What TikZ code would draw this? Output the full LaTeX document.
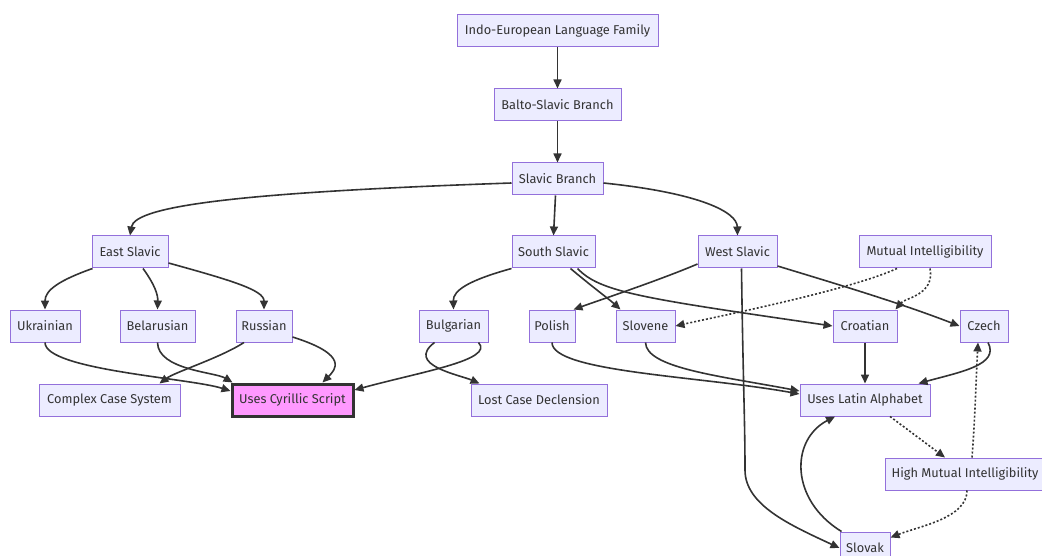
\documentclass[tikz,border=0pt]{standalone}
\usepackage{fontspec}
\setmainfont{Fira Sans}
\usetikzlibrary{arrows.meta,calc}
\definecolor{nfill}{HTML}{ECECFF}
\definecolor{nborder}{HTML}{9370DB}
\definecolor{ecol}{HTML}{333333}
\definecolor{pinkfill}{HTML}{FF99FF}
\tikzset{
  box/.style={draw=nborder, fill=nfill, line width=1pt, minimum height=32pt, inner sep=0pt, font=\fontsize{12.8}{15}\selectfont, text=ecol},
  hilite/.style={draw=ecol, fill=pinkfill, line width=3pt, minimum height=32pt, inner sep=0pt, font=\fontsize{12.8}{15}\selectfont, text=ecol},
  edge/.style={draw=ecol, line width=1.6pt, -{Triangle[length=9pt,width=8pt]}},
  dotedge/.style={draw=ecol, line width=1.6pt, dash pattern=on 2pt off 2pt, -{Triangle[length=9pt,width=8pt]}}
}
\begin{document}
\begin{tikzpicture}[x=1pt,y=-1pt]
\useasboundingbox (0,0) rectangle (1042,556);
\node[box, minimum width=201pt] (ie) at (557.5,31) {Indo-European Language Family};
\node[box, minimum width=127pt] (balto) at (557.5,105) {Balto-Slavic Branch};
\node[box, minimum width=91pt] (slav) at (557.5,179) {Slavic Branch};
\node[box, minimum width=76pt] (east) at (130,252) {East Slavic};
\node[box, minimum width=83pt] (south) at (553.5,252) {South Slavic};
\node[box, minimum width=79pt] (west) at (737.5,252) {West Slavic};
\node[box, minimum width=132pt] (mutual) at (925,252) {Mutual Intelligibility};
\node[box, minimum width=70pt] (ukr) at (45,326) {Ukrainian};
\node[box, minimum width=75pt] (bel) at (157.5,326) {Belarusian};
\node[box, minimum width=56pt] (rus) at (264,326) {Russian};
\node[box, minimum width=69pt] (bul) at (453.5,326) {Bulgarian};
\node[box, minimum width=46pt] (pol) at (552,326) {Polish};
\node[box, minimum width=59pt] (slo) at (645.5,326) {Slovene};
\node[box, minimum width=64pt] (cro) at (865,326) {Croatian};
\node[box, minimum width=48pt] (cze) at (984,326) {Czech};
\node[box, minimum width=141pt] (ccs) at (109.5,400) {Complex Case System};
\node[hilite, minimum width=121pt] (cyr) at (292.5,400) {Uses Cyrillic Script};
\node[box, minimum width=136pt] (lcd) at (539,400) {Lost Case Declension};
\node[box, minimum width=130pt] (lat) at (865,400) {Uses Latin Alphabet};
\node[box, minimum width=160pt] (hmi) at (965,474) {High Mutual Intelligibility};
\node[box, minimum width=50pt] (slk) at (865,548) {Slovak};

\draw[edge] (ie) -- (balto);
\draw[edge] (balto) -- (slav);
\draw[edge] ($(slav.west)+(0,4)$) .. controls (250,192) and (135,205) .. (east.north);
\draw[edge] ($(slav.south)+(-2,0)$) -- ($(south.north)+(0,0)$);
\draw[edge] ($(slav.east)+(0,4)$) .. controls (700,193) and (737,212) .. (west.north);

\draw[edge] ($(east.south west)+(1,0)$) .. controls (60,280) and (45,290) .. (ukr.north);
\draw[edge] ($(east.south)+(13,0)$) .. controls (155,285) and (158,295) .. (bel.north);
\draw[edge] ($(east.east)+(0,11)$) .. controls (230,280) and (264,290) .. (rus.north);
\draw[edge] (south.south west) .. controls (470,280) and (453,290) .. (bul.north);
\draw[edge] ($(south.south)+(17,0)$) .. controls (590,285) and (610,300) .. ($(slo.north west)+(5,0)$);
\draw[edge] ($(south.south)+(24,0)$) .. controls (600,292) and (640,298) .. (cro.west);
\draw[edge] ($(west.west)+(0,12)$) .. controls (660,280) and (600,300) .. ($(pol.north east)+(-2,0)$);
\draw[edge] ($(west.east)+(0,14)$) .. controls (840,285) and (900,303) .. (cze.west);
\draw[edge] ($(west.south)+(4,0)$) .. controls (743,380) and (745,420) .. (745,470) .. controls (745,505) and (790,525) .. (slk.west);
\draw[dotedge] ($(mutual.south)+(-28,0)$) .. controls (850,290) and (720,316) .. (slo.east);
\draw[dotedge] ($(mutual.south)+(5,0)$) .. controls (935,295) and (905,298) .. ($(cro.north east)+(-2,0)$);

\draw[edge] (ukr.south) .. controls (45,370) and (190,378) .. ($(cyr.west)+(0,-9)$);
\draw[edge] (bel.south) .. controls (158,370) and (215,372) .. ($(cyr.north west)+(2,0)$);
\draw[edge] ($(rus.south)+(-20,0)$) .. controls (220,358) and (175,372) .. ($(ccs.north)+(50,0)$);
\draw[edge] ($(rus.east)+(0,11)$) .. controls (350,355) and (335,370) .. ($(cyr.north)+(30,0)$);
\draw[edge] ($(bul.south)+(25,0)$) .. controls (495,360) and (420,372) .. ($(cyr.east)+(0,-10)$);
\draw[edge] ($(bul.south)+(-19,0)$) .. controls (405,365) and (460,375) .. ($(lcd.north west)+(9,0)$);
\draw[edge] (pol.south) .. controls (552,372) and (700,376) .. ($(lat.west)+(0,-6)$);
\draw[edge] (slo.south) .. controls (646,368) and (720,376) .. ($(lat.west)+(0,-9)$);
\draw[edge] (cro) -- (lat);
\draw[edge] ($(cze.south)+(4,0)$) .. controls (1000,365) and (960,372) .. ($(lat.north east)+(-12,0)$);
\draw[dotedge] ($(lat.south)+(25,0)$) -- ($(hmi.north)+(-20,0)$);
\draw[dotedge] ($(hmi.north)+(7,0)$) .. controls (975,420) and (976,380) .. ($(cze.south)+(-6,0)$);
\draw[dotedge] ($(hmi.south)+(2,0)$) .. controls (967,518) and (920,526) .. ($(slk.north east)+(0,6)$);
\draw[edge] ($(slk.north west)+(2,0)$) .. controls (790,500) and (790,440) .. ($(lat.south)+(-30,0)$);
\end{tikzpicture}
\end{document}
